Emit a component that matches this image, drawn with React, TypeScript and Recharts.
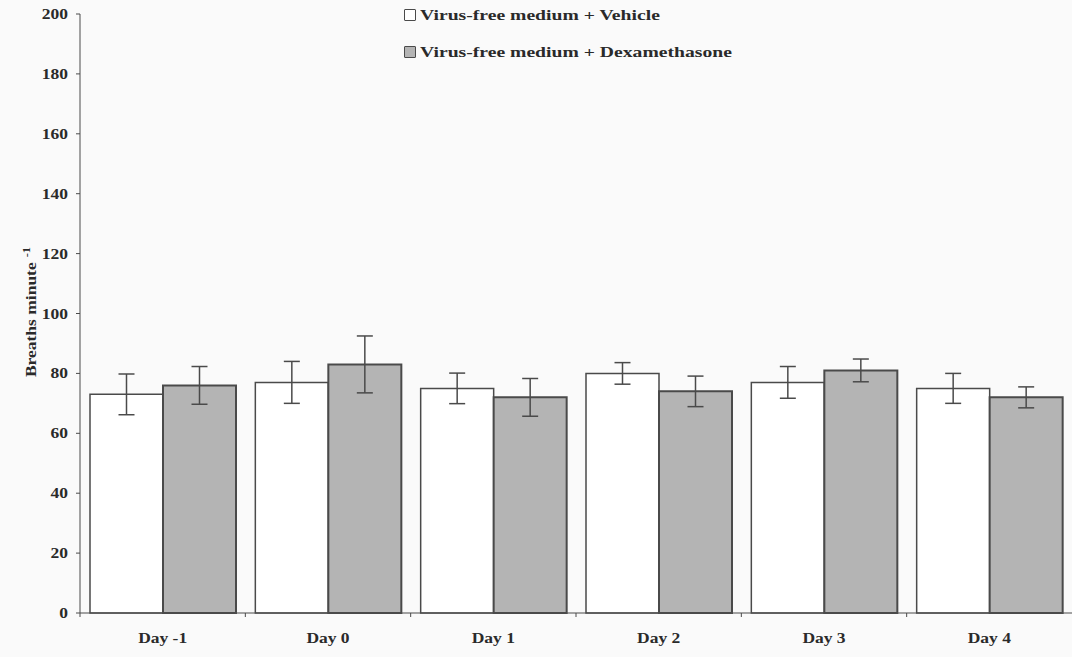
import React from 'react';
import { BarChart, Bar, XAxis, YAxis, ErrorBar } from 'recharts';

const days = ['Day -1', 'Day 0', 'Day 1', 'Day 2', 'Day 3', 'Day 4'];
const vehicle = [73, 77, 75, 80, 77, 75];
const vehicleErr = [6.8, 7, 5.1, 3.6, 5.3, 5];
const dexamethasone = [76, 83, 72, 74, 81, 72];
const dexamethasoneErr = [6.3, 9.5, 6.3, 5.1, 3.8, 3.5];
const yTicks = [0, 20, 40, 60, 80, 100, 120, 140, 160, 180, 200];
const seriesNames = ['Virus-free medium + Vehicle', 'Virus-free medium + Dexamethasone'];

const data = days.map((day, i) => ({
  day,
  vehicle: vehicle[i],
  vehicleErr: vehicleErr[i],
  dex: dexamethasone[i],
  dexErr: dexamethasoneErr[i],
}));

const W = 1072;
const H = 657;
const LEFT = 80;
const FONT = '"Liberation Serif", "DejaVu Serif", serif';
const INK = '#2a2a2a';
const EDGE = '#4a4a4a';
const GREY = '#b4b4b4';
const STRETCH = 1.25;

const bandWidth = (W - LEFT) / days.length;

const DayTick = (props: any) => {
  const { x, y, payload } = props;
  return (
    <g>
      <line x1={x - bandWidth / 2} y1={y - 8} x2={x - bandWidth / 2} y2={y - 4} stroke={EDGE} strokeWidth={1} />
      <text transform={`translate(${x}, ${y + 22}) scale(${STRETCH}, 1)`} textAnchor="middle" fontFamily={FONT} fontWeight="bold" fontSize={14} fill={INK}>
        {payload.value}
      </text>
    </g>
  );
};

const ValueTick = (props: any) => {
  const { x, y, payload } = props;
  return (
    <text transform={`translate(${x - 6}, ${y + 5}) scale(${STRETCH}, 1)`} textAnchor="end" fontFamily={FONT} fontWeight="bold" fontSize={14} fill={INK}>
      {payload.value}
    </text>
  );
};

const YLabel = () => (
  <text transform={`translate(36, 312) rotate(-90) scale(${STRETCH}, 1)`} textAnchor="middle" fontFamily={FONT} fontWeight="bold" fontSize={14} fill={INK}>
    Breaths minute
    <tspan dx={4} dy={-6} fontSize={10}>-1</tspan>
  </text>
);

const LegendBox = () => {
  const fills = ['#ffffff', GREY];
  return (
    <div style={{ position: 'absolute', left: 404, top: 6, fontFamily: FONT, fontWeight: 'bold', fontSize: 15, color: INK }}>
      {seriesNames.map((name, i) => (
        <div key={name} style={{ display: 'flex', alignItems: 'center', height: 18, marginBottom: 19 }}>
          <span style={{ display: 'inline-block', width: 10, height: 10, border: `1.5px solid ${EDGE}`, background: fills[i], marginRight: 4, borderRadius: 1 }} />
          <span style={{ display: 'inline-block', transform: 'scaleX(1.31)', transformOrigin: 'left center', whiteSpace: 'nowrap' }}>{name}</span>
        </div>
      ))}
    </div>
  );
};

export default function App() {
  return (
    <div style={{ position: 'absolute', left: 0, top: 0, width: W, height: H, background: '#fafafa', overflow: 'hidden' }}>
      <BarChart width={W} height={H} data={data} margin={{ top: 14, right: 0, bottom: 0, left: 0 }} barGap={0} barCategoryGap={10}>
        <XAxis dataKey="day" axisLine={{ stroke: EDGE }} tickLine={false} tick={<DayTick />} height={44} interval={0} />
        <YAxis
          domain={[0, 200]}
          ticks={yTicks}
          width={LEFT}
          axisLine={{ stroke: EDGE }}
          tickLine={{ stroke: EDGE }}
          tickSize={4}
          tick={<ValueTick />}
          label={<YLabel />}
        />
        <Bar dataKey="vehicle" name={seriesNames[0]} fill="#ffffff" stroke={EDGE} strokeWidth={1.5} isAnimationActive={false}>
          <ErrorBar dataKey="vehicleErr" width={8} stroke={EDGE} strokeWidth={1.5} />
        </Bar>
        <Bar dataKey="dex" name={seriesNames[1]} fill={GREY} stroke={EDGE} strokeWidth={2} isAnimationActive={false}>
          <ErrorBar dataKey="dexErr" width={8} stroke={EDGE} strokeWidth={1.5} />
        </Bar>
      </BarChart>
      <LegendBox />
    </div>
  );
}
